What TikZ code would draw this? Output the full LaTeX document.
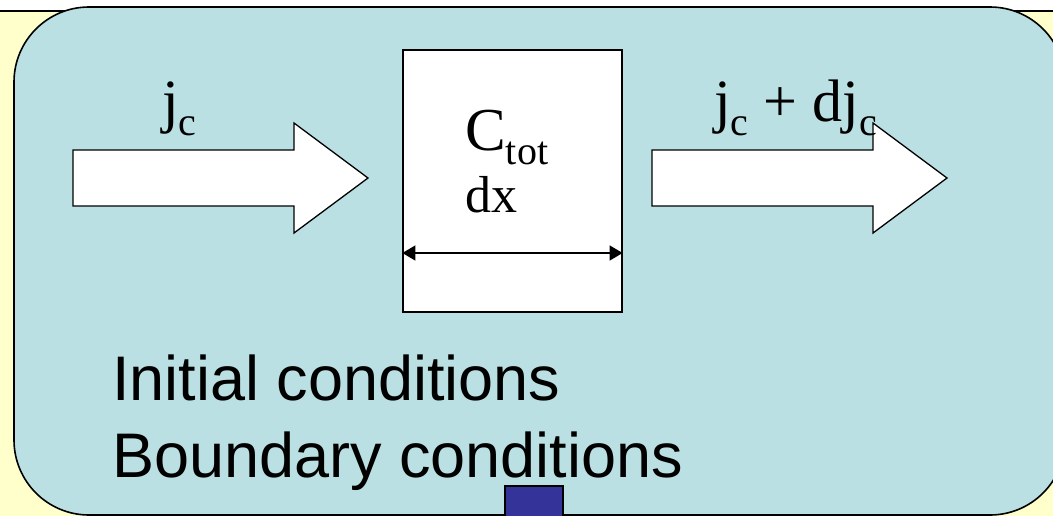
\documentclass[tikz,border=0pt]{standalone}
\usepackage{fontspec}
\setmainfont{Liberation Serif}
\newfontfamily\headsans{Liberation Sans}
\usepackage{tikz}
\usetikzlibrary{arrows.meta}
\definecolor{slideyellow}{RGB}{255,255,204}
\definecolor{panelblue}{RGB}{187,224,227}
\definecolor{tabblue}{RGB}{51,51,153}
\newcommand{\lowsub}[1]{\raisebox{-14pt}{\fontsize{40}{42}\selectfont #1}}
\tikzset{
    blockarrow/.style={draw, line width=1.3pt, fill=white, line join=miter},
    serif label/.style={anchor=base west, inner sep=0pt, font=\fontsize{60}{64}\selectfont},
    cond text/.style={anchor=base west, inner sep=0pt, font=\headsans\fontsize{63}{70}\selectfont}
}

\begin{document}
\begin{tikzpicture}[x=1pt, y=-1pt]
        \useasboundingbox (0,0) rectangle (1053,515);
        \clip (0,0) rectangle (1053,515);
        \fill[white] (0,0) rectangle (1053,515);
        \draw[line width=1.3pt, fill=slideyellow] (-10,11) rectangle (1070,600);
        \draw[line width=1.6pt, rounded corners=75pt, fill=panelblue] (14,7) rectangle (1065,515);
        % incoming and outgoing flux
        \draw[blockarrow] (73,150) -- (294,150) -- (294,123) -- (368,178) -- (294,233) -- (294,206) -- (73,206) -- cycle;
        \draw[blockarrow] (652,150) -- (873,150) -- (873,123) -- (947,178) -- (873,233) -- (873,206) -- (652,206) -- cycle;
        \node[serif label] (jin) at (162,121) {j\lowsub{c}};
        \node[serif label] (jout) at (714,121) {j\lowsub{c} + dj\lowsub{c}};
        % control volume
        \node[draw, line width=1.2pt, fill=white, minimum width=219pt, minimum height=262pt, inner sep=0pt] (cell) at (512.5,181) {};
        \node[serif label, font=\fontsize{61}{64}\selectfont] (ctot) at (465,150) {C\lowsub{tot}};
        \node[serif label, font=\fontsize{52}{60}\selectfont] (dx) at (465,212) {dx};
        \coordinate (wl) at (cell.west |- 0,253);
        \coordinate (wr) at (cell.east |- 0,253);
        \draw[line width=1.6pt, {Triangle[length=13pt,width=15pt]}-{Triangle[length=13pt,width=15pt]}] (wl) -- (wr);
        \node[cond text] (init) at (112,400) {Initial conditions};
        \node[cond text] (bound) at (112,477) {Boundary conditions};
        \draw[line width=1.3pt, fill=tabblue] (505,486) rectangle (563,540);
    \end{tikzpicture}
\end{document}
